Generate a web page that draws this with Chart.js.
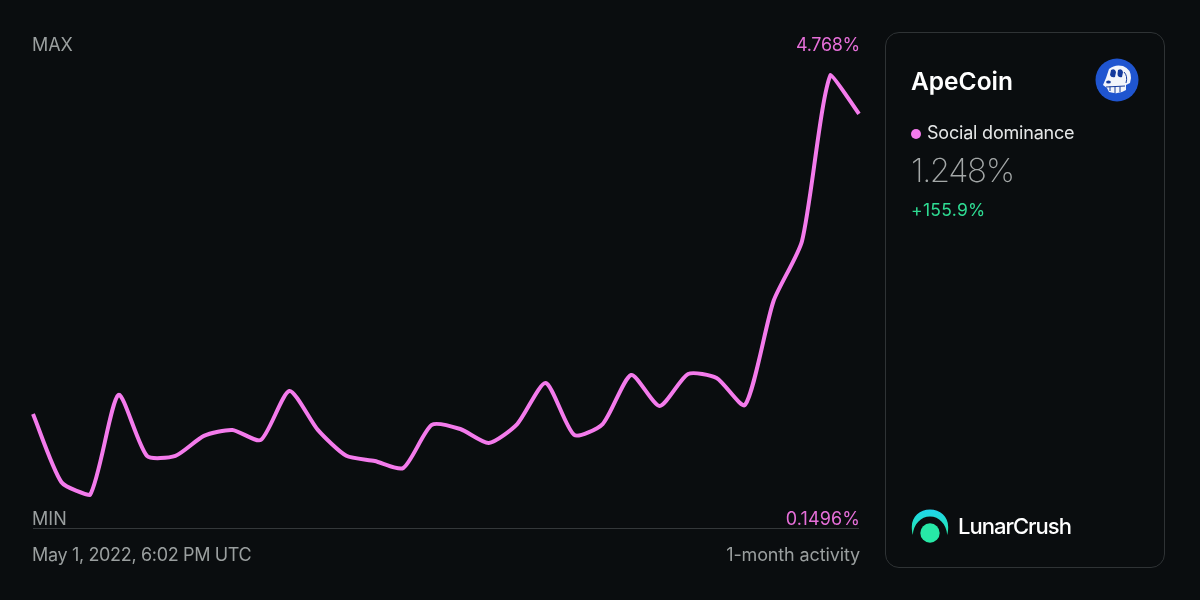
<!DOCTYPE html>
<html><head><meta charset="utf-8">
<script src="https://cdn.jsdelivr.net/npm/chart.js@4"></script>
<style>
html,body{margin:0;padding:0;background:#0a0d0f;width:1200px;height:600px;overflow:hidden}
body{position:relative;font-family:"Inter","Liberation Sans",sans-serif}
canvas{position:absolute;left:0;top:0}
.t{position:absolute;white-space:nowrap;line-height:1}
.g{color:#9a9f9f;font-size:18px}
.p{color:#e66fd9;font-size:18px}
#rule{position:absolute;left:33px;top:528px;width:826px;height:1px;background:#34383a}
#card{position:absolute;left:885px;top:32px;width:278px;height:534px;border:1px solid #2f3335;border-radius:14px}
</style></head><body>
<canvas id="c" width="1200" height="600" style="width:1200px;height:600px"></canvas>
<div id="rule"></div><div id="card"></div>
<div class="t g" style="left:32px;top:36px;letter-spacing:-.1px">MAX</div>
<div class="t g" style="left:32px;top:510px;letter-spacing:.1px">MIN</div>
<div class="t p" style="right:340px;top:36px;letter-spacing:-.3px">4.768%</div>
<div class="t p" style="right:340px;top:510px;letter-spacing:.12px">0.1496%</div>
<div class="t g" style="left:32px;top:546px;letter-spacing:-.34px">May 1, 2022, 6:02 PM UTC</div>
<div class="t g" style="right:340px;top:546px;letter-spacing:-.13px">1-month activity</div>
<div class="t" style="left:911px;top:69px;font-size:24.5px;font-weight:600;color:#fff">ApeCoin</div>
<div style="position:absolute;left:911px;top:129px;width:10px;height:10px;border-radius:50%;background:#f47bec"></div>
<div class="t" style="left:927px;top:124px;font-size:18px;color:#e6e8e8;letter-spacing:-.2px">Social dominance</div>
<div class="t" style="left:911px;top:154px;font-size:33px;font-weight:200;color:#a4a8a8;letter-spacing:-1.4px">1.248%</div>
<div class="t" style="left:911px;top:201px;font-size:17.5px;color:#2fdc93;letter-spacing:.3px">+155.9%</div>
<div class="t" style="left:958px;top:515px;font-size:22px;font-weight:500;color:#fff;letter-spacing:-1px">LunarCrush</div>
<svg style="position:absolute;left:1095px;top:58px" width="44" height="44" viewBox="0 0 44 44">
<circle cx="22" cy="22" r="21.5" fill="#1f55d0"/>
<path d="M8 27 L11 20 L14 11 Q20 6 28 8 Q36 11 36 20 L35 25 L31 27 L31 32 Q24 37 14 34 L12 30 Z" fill="#f2f5fb"/>
<path d="M16 12 Q20 10 21 14 L20 19 Q16 20 15 17 Z" fill="#143a9c"/>
<path d="M23 12 Q27 10 28 14 L27 19 Q23 20 22.5 16 Z" fill="#143a9c"/>
<ellipse cx="13.5" cy="24" rx="2.4" ry="1.5" fill="#143a9c"/>
<path d="M29 14 Q33 18 31 25 M11 29 L30 28 M15 28.5 V33 M20 28.5 V35 M25 28.5 V34" stroke="#143a9c" stroke-width="1" fill="none"/>
</svg>
<svg style="position:absolute;left:911px;top:509px" width="38" height="34" viewBox="0 0 38 34">
<defs><linearGradient id="a" x1="0" y1="0" x2="0" y2="1"><stop offset="0" stop-color="#1fd6ee"/><stop offset="1" stop-color="#25e8a8"/></linearGradient></defs>
<path d="M0.8 18 C0.8 7 9 0.5 19 0.5 C29 0.5 37.2 7 37.2 18 C37.2 21 36.8 24 36.2 26 C35.5 15 28 7.5 19 7.5 C10 7.5 2.5 15 1.8 26 C1.2 24 0.8 21 0.8 18 Z" fill="url(#a)"/>
<circle cx="19" cy="24" r="9.7" fill="#27e8a6"/>
</svg>
<script>
const labels=["1","2","3","4","5","6","7","8","9","10","11","12","13","14","15","16","17","18","19","20","21","22","23","24","25","26","27","28","29","30"];
const socialDominance=[1.04,0.29,0.15,1.25,0.58,0.58,0.80,0.865,0.755,1.293,0.865,0.58,0.524,0.447,0.92,0.875,0.722,0.93,1.381,0.81,0.93,1.469,1.129,1.48,1.436,1.14,2.283,2.943,4.768,4.34];
const yMin=0.1496, yMax=4.768;
new Chart(document.getElementById('c'),{
 type:'line',
 data:{labels:labels,datasets:[{data:socialDominance,borderColor:'#f47bec',borderWidth:4,pointRadius:0,tension:0.22,fill:false,clip:false,borderCapStyle:'butt',borderJoinStyle:'round'}]},
 options:{responsive:false,animation:false,devicePixelRatio:1,
  layout:{padding:{left:33,right:341,top:75,bottom:105}},
  plugins:{legend:{display:false},tooltip:{enabled:false}},
  scales:{x:{display:false,offset:false},y:{display:false,min:yMin,max:yMax}}}
});
</script>
</body></html>
